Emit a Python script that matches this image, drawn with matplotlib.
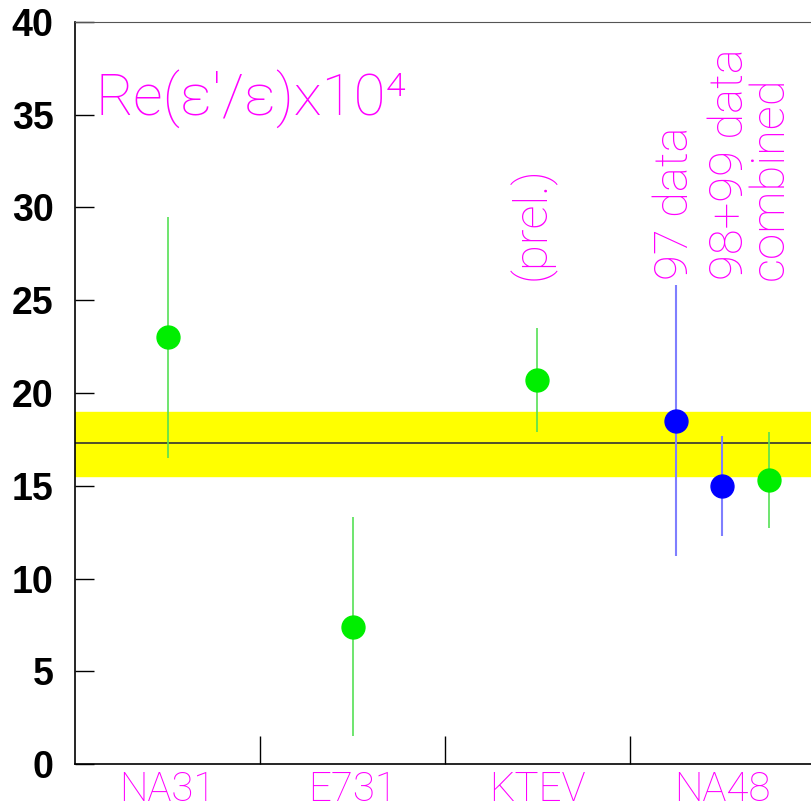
import numpy as np
import matplotlib.pyplot as plt

# категории и измерения
categories = ['NA31', 'E731', 'KTEV', 'NA48']
green_x = [0.5, 1.5, 2.5, 3.75]
green_val = [23.0, 7.4, 20.7, 15.3]
green_err = [6.5, 5.9, 2.8, 2.6]
blue_x = [3.25, 3.5]
blue_val = [18.5, 15.0]
blue_err = [7.3, 2.7]
# мировое среднее
world_avg = 17.3
world_lo, world_hi = 15.5, 19.0

notes = ['(prel.)', '97 data', '98+99 data', 'combined']
notes_x = [2.47, 3.245, 3.54, 3.755]

magenta = '#ff00ff'
light = dict(family=['Roboto', 'DejaVu Sans'], weight='light', color=magenta)

fig = plt.figure(figsize=(8.12, 8.05), dpi=100)
ax = fig.add_axes([0.0924, 0.0509, 0.9076, 0.9218])

ax.axhspan(world_lo, world_hi, color='#ffff00', zorder=1)
ax.axhline(world_avg, color='#333333', lw=1.2, zorder=2)

ax.errorbar(green_x, green_val, yerr=green_err, fmt='o', color='#00ee00',
            ecolor='#55e055', elinewidth=1.2, markersize=16.5, capsize=0, zorder=3)
ax.errorbar(blue_x, blue_val, yerr=blue_err, fmt='o', color='#0000ff',
            ecolor='#7f7fff', elinewidth=1.5, markersize=16.5, capsize=0, zorder=3)

ax.set_xlim(0, 3.984)
ax.set_ylim(0, 40)
ax.set_yticks(np.arange(0, 41, 5))
ax.set_xticks([1, 2, 3])
ax.set_xticklabels([])
ax.tick_params(axis='y', direction='in', length=14, width=1, pad=15.5,
               labelsize=27)
ax.tick_params(axis='x', direction='in', length=20, width=1)
for lab in ax.get_yticklabels():
    lab.set_fontfamily('Liberation Sans')
    lab.set_fontweight('bold')

ax.spines['right'].set_visible(False)
ax.spines['top'].set_color('#555555')
ax.spines['left'].set_linewidth(1.2)
ax.spines['bottom'].set_linewidth(1.2)

for i, c in enumerate(categories):
    ax.text(i + 0.5, -2.0, c, ha='center', va='baseline', fontsize=29, **light)

ax.text(0.11, 35.0, 'Re(ε′/ε)x10⁴', ha='left', va='baseline', fontsize=42, **light)

for x, t in zip(notes_x, notes):
    ax.text(x, 26.1, t, rotation=90, ha='center', va='bottom', fontsize=34, **light)

fig.savefig('out.png', dpi=100)
